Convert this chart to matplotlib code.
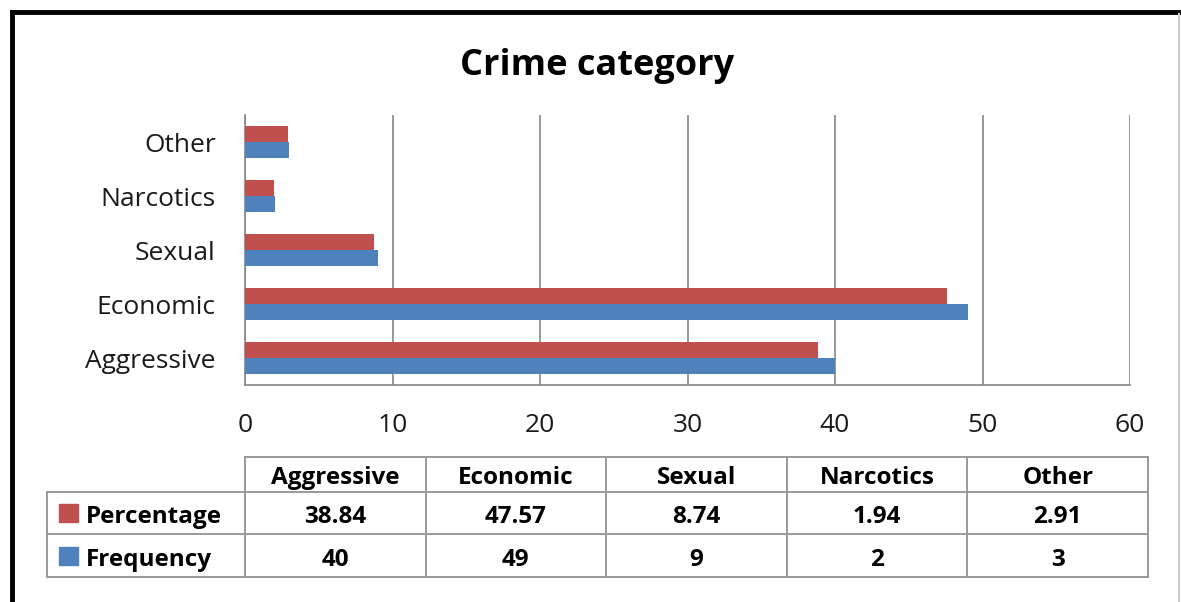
import matplotlib.pyplot as plt
from matplotlib.lines import Line2D
from matplotlib.patches import Rectangle
import numpy as np

plt.rcParams['font.family'] = ['Open Sans', 'DejaVu Sans']

categories = ['Aggressive', 'Economic', 'Sexual', 'Narcotics', 'Other']
percentage = [38.84, 47.57, 8.74, 1.94, 2.91]
frequency = [40, 49, 9, 2, 3]
pct_labels = ['38.84', '47.57', '8.74', '1.94', '2.91']
freq_labels = ['40', '49', '9', '2', '3']
xticks = [0, 10, 20, 30, 40, 50, 60]

red = '#C0504D'
blue = '#4F81BD'
grid = '#868686'

W, H = 1181, 602
fig = plt.figure(figsize=(W / 100, H / 100), dpi=100)

def fx(x):
    return x / W

def fy(y):
    return 1 - y / H

# plot area
ax = fig.add_axes([fx(245), fy(385), fx(1130) - fx(245), fy(115) - fy(385)])
y = np.arange(len(categories))
h = 0.296
ax.barh(y + h / 2, percentage, height=h, color=red, zorder=3)
ax.barh(y - h / 2, frequency, height=h, color=blue, zorder=3)
ax.set_xlim(0, 60)
ax.set_ylim(-0.5, len(categories) - 0.5)
ax.set_xticks(xticks)
ax.set_yticks(y)
ax.set_yticklabels(categories)
ax.tick_params(axis='both', length=0, labelsize=19, colors='#1a1a1a')
ax.tick_params(axis='y', pad=21)
ax.tick_params(axis='x', pad=20)
ax.grid(axis='x', color=grid, linewidth=1.2, zorder=0)
for s in ['top', 'right']:
    ax.spines[s].set_visible(False)
for s in ['left', 'bottom']:
    ax.spines[s].set_color(grid)
    ax.spines[s].set_linewidth(1.2)

fig.text(fx(597), fy(61), 'Crime category', ha='center', va='center_baseline',
         fontsize=26, fontweight='bold', color='#000000')

# data table
edges = [47, 245] + [245 + (1148 - 245) * (i + 1) / 5 for i in range(5)]
rows = [457, 492, 534, 577]
tc = '#999999'
lines = []
# horizontal lines
lines.append(([245, 1148], [rows[0], rows[0]]))
for r in rows[1:]:
    lines.append(([47, 1148], [r, r]))
# vertical lines
lines.append(([47, 47], [rows[1], rows[3]]))
for e in edges[1:]:
    lines.append(([e, e], [rows[0], rows[3]]))
for xs, ys in lines:
    fig.add_artist(Line2D([fx(v) for v in xs], [fy(v) for v in ys],
                          color=tc, linewidth=1.4, transform=fig.transFigure))

tfs = 17.5
for i, c in enumerate(categories):
    cx = (edges[i + 1] + edges[i + 2]) / 2
    fig.text(fx(cx), fy((rows[0] + rows[1]) / 2 + 1), c, ha='center',
             va='center_baseline', fontsize=tfs, fontweight='bold')
    fig.text(fx(cx), fy((rows[1] + rows[2]) / 2 + 1), pct_labels[i], ha='center',
             va='center_baseline', fontsize=tfs, fontweight='bold')
    fig.text(fx(cx), fy((rows[2] + rows[3]) / 2 + 1), freq_labels[i], ha='center',
             va='center_baseline', fontsize=tfs, fontweight='bold')

for (name, col, r0, r1) in [('Percentage', red, rows[1], rows[2]),
                            ('Frequency', blue, rows[2], rows[3])]:
    cy = (r0 + r1) / 2
    fig.add_artist(Rectangle((fx(59), fy(cy + 9)), fx(19), fy(cy - 9) - fy(cy + 9),
                             color=col, transform=fig.transFigure))
    fig.text(fx(86), fy(cy + 1), name, ha='left', va='center_baseline',
             fontsize=tfs, fontweight='bold')

# outer frame
fig.add_artist(Line2D([fx(12), fx(1181)], [fy(12), fy(12)], color='black',
                      linewidth=3.5, transform=fig.transFigure))
fig.add_artist(Line2D([fx(12), fx(12)], [fy(12), fy(602)], color='black',
                      linewidth=3.5, transform=fig.transFigure))
fig.add_artist(Line2D([fx(1179), fx(1179)], [fy(14), fy(602)], color='#cccccc',
                      linewidth=1.5, transform=fig.transFigure))

fig.savefig('out.png', dpi=100)
